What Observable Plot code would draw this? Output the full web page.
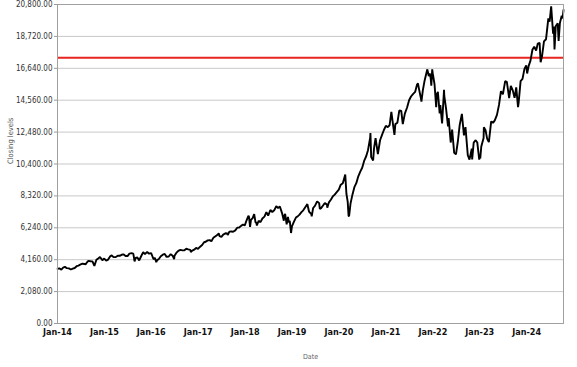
<!DOCTYPE html>
<html>
<head>
<meta charset="utf-8">
<script src="https://cdn.jsdelivr.net/npm/d3@7"></script>
<script src="https://cdn.jsdelivr.net/npm/@observablehq/plot@0.6"></script>
<style>
  html, body { margin: 0; padding: 0; background: #fff; }
  #chart svg { display: block; }
</style>
</head>
<body>
<div id="chart"></div>
<script>
// ---- data ----
const dates = [
  // 2014
  "2014-01-02","2014-01-15","2014-01-31","2014-02-14","2014-02-28","2014-03-14","2014-03-31","2014-04-15","2014-04-30","2014-05-15","2014-05-30","2014-06-13","2014-06-30","2014-07-15","2014-07-31","2014-08-07","2014-08-15","2014-08-29","2014-09-15","2014-09-30","2014-10-15","2014-10-31","2014-11-14","2014-11-28","2014-12-16","2014-12-31",
  // 2015
  "2015-01-15","2015-01-30","2015-02-13","2015-02-27","2015-03-13","2015-03-31","2015-04-15","2015-04-30","2015-05-15","2015-05-29","2015-06-15","2015-06-30","2015-07-15","2015-07-31","2015-08-14","2015-08-24","2015-08-31","2015-09-15","2015-09-29","2015-10-15","2015-10-30","2015-11-13","2015-11-30","2015-12-15","2015-12-31",
  // 2016
  "2016-01-15","2016-01-20","2016-01-29","2016-02-09","2016-02-16","2016-02-29","2016-03-15","2016-03-31","2016-04-15","2016-04-29","2016-05-16","2016-05-31","2016-06-15","2016-06-27","2016-06-30","2016-07-15","2016-07-29","2016-08-15","2016-08-31","2016-09-15","2016-09-30","2016-10-14","2016-10-31","2016-11-04","2016-11-15","2016-11-30","2016-12-15","2016-12-30",
  // 2017
  "2017-01-13","2017-01-31","2017-02-15","2017-02-28","2017-03-15","2017-03-31","2017-04-13","2017-04-28","2017-05-15","2017-05-31","2017-06-09","2017-06-15","2017-06-30","2017-07-14","2017-07-31","2017-08-15","2017-08-18","2017-08-31","2017-09-15","2017-09-29","2017-10-16","2017-10-31","2017-11-15","2017-11-30","2017-12-15","2017-12-29",
  // 2018
  "2018-01-12","2018-01-26","2018-01-31","2018-02-08","2018-02-15","2018-02-28","2018-03-12","2018-03-23","2018-03-29","2018-04-02","2018-04-16","2018-04-30","2018-05-15","2018-05-31","2018-06-15","2018-06-29","2018-07-16","2018-07-31","2018-08-15","2018-08-31","2018-09-14","2018-09-28","2018-10-15","2018-10-29","2018-10-31","2018-11-08","2018-11-20","2018-11-30","2018-12-07","2018-12-14","2018-12-24","2018-12-31",
  // 2019
  "2019-01-15","2019-01-31","2019-02-15","2019-02-28","2019-03-15","2019-03-29","2019-04-15","2019-04-30","2019-05-13","2019-05-31","2019-06-03","2019-06-14","2019-06-28","2019-07-15","2019-07-31","2019-08-05","2019-08-15","2019-08-30","2019-09-13","2019-09-30","2019-10-02","2019-10-15","2019-10-31","2019-11-15","2019-11-29","2019-12-13","2019-12-31",
  // 2020
  "2020-01-15","2020-01-31","2020-02-19","2020-02-28","2020-03-09","2020-03-16","2020-03-20","2020-03-31","2020-04-15","2020-04-30","2020-05-15","2020-05-29","2020-06-15","2020-06-30","2020-07-15","2020-07-31","2020-08-14","2020-08-31","2020-09-02","2020-09-08","2020-09-23","2020-09-30","2020-10-12","2020-10-30","2020-11-16","2020-11-30","2020-12-15","2020-12-31",
  // 2021
  "2021-01-15","2021-01-29","2021-02-12","2021-02-26","2021-03-08","2021-03-15","2021-03-31","2021-04-15","2021-04-30","2021-05-12","2021-05-28","2021-06-15","2021-06-30","2021-07-15","2021-07-30","2021-08-16","2021-08-31","2021-09-07","2021-09-15","2021-09-30","2021-10-04","2021-10-15","2021-10-29","2021-11-19","2021-11-30","2021-12-08","2021-12-15","2021-12-20","2021-12-27","2021-12-31",
  // 2022
  "2022-01-14","2022-01-27","2022-01-31","2022-02-09","2022-02-23","2022-02-28","2022-03-14","2022-03-29","2022-03-31","2022-04-14","2022-04-29","2022-05-04","2022-05-20","2022-05-31","2022-06-16","2022-06-30","2022-07-15","2022-07-29","2022-08-15","2022-08-31","2022-09-12","2022-09-30","2022-10-13","2022-10-31","2022-11-03","2022-11-15","2022-11-30","2022-12-13","2022-12-28","2022-12-30",
  // 2023
  "2023-01-05","2023-01-13","2023-01-31","2023-02-02","2023-02-15","2023-02-28","2023-03-13","2023-03-31","2023-04-14","2023-04-28","2023-05-15","2023-05-31","2023-06-15","2023-06-30","2023-07-18","2023-07-31","2023-08-18","2023-08-31","2023-09-15","2023-09-29","2023-10-12","2023-10-26","2023-10-31","2023-11-15","2023-11-30","2023-12-15","2023-12-29",
  // 2024
  "2024-01-05","2024-01-17","2024-01-31","2024-02-15","2024-02-29","2024-03-15","2024-03-28","2024-04-11","2024-04-19","2024-04-30","2024-05-15","2024-05-31","2024-06-18","2024-06-28","2024-07-10","2024-07-25","2024-07-31","2024-08-05","2024-08-15","2024-08-30","2024-09-06","2024-09-16","2024-09-30","2024-10-07","2024-10-14"
];
const closes = [
  // 2014
  3560,3600,3505,3650,3700,3610,3596,3520,3582,3620,3736,3780,3850,3900,3880,3850,3950,4082,4060,4049,3760,4158,4240,4337,4120,4236,
  // 2015
  4100,4170,4360,4446,4330,4334,4420,4415,4480,4509,4400,4397,4560,4589,4560,4050,4275,4300,4110,4400,4648,4520,4665,4550,4593,
  // 2016
  4270,4190,4280,4000,4130,4202,4380,4484,4540,4341,4370,4523,4420,4200,4418,4620,4730,4800,4771,4770,4875,4830,4801,4660,4750,4810,4930,4864,
  // 2017
  4990,5119,5300,5330,5420,5436,5360,5584,5690,5788,5880,5700,5647,5800,5880,5870,5760,5988,6000,5980,6070,6248,6260,6365,6450,6397,
  // 2018
  6730,7022,6950,6300,6750,6870,7130,6580,6582,6390,6700,6606,6850,6967,7260,7040,7400,7272,7380,7651,7530,7627,7200,6700,6968,7150,6470,6949,6600,6700,5900,6330,
  // 2019
  6630,6906,7000,7100,7260,7378,7600,7781,7300,7128,6980,7530,7671,7960,7848,7470,7520,7692,7850,7750,7550,7900,8083,8300,8403,8550,8733,
  // 2020
  9050,9150,9718,8462,7950,7020,7000,7813,8400,8890,9150,9556,9900,10156,10600,10905,11300,12111,12420,10850,10630,11418,12090,11052,11950,12268,12600,12888,
  // 2021
  12800,12925,13800,12909,12300,13000,13091,13900,13860,13000,13687,14100,14554,14800,14959,15100,15583,15650,15300,14690,14470,15200,15850,16573,16135,16300,16000,15500,16570,16320,
  // 2022
  15600,14110,14930,15100,13700,14238,13050,15240,14838,14000,12855,13400,11800,12643,11130,11028,11900,12948,13667,12272,12800,10971,10690,11406,10700,11800,11951,11800,10680,10940,
  // 2023
  10760,11540,12101,12800,12600,12042,11830,13181,13080,13246,13600,14254,15150,14945,15800,15757,14700,15501,15200,14715,15400,14110,14410,15800,15947,16600,16826,
  // 2024
  16300,16800,17137,17850,18043,17800,18255,18300,17037,17441,18400,18536,19900,19683,20675,18900,19363,17868,19400,19575,18420,19600,20061,19900,20440
];
const thresholdLevel = [17330];
const yTicks = [0, 2080, 4160, 6240, 8320, 10400, 12480, 14560, 16640, 18720, 20800];
const xTickYears = [2014, 2015, 2016, 2017, 2018, 2019, 2020, 2021, 2022, 2023, 2024];
const yLabel = "Closing levels";
const xLabel = "Date";

// ---- build table ----
const parse = d3.utcParse("%Y-%m-%d");
const data = dates.map((d, i) => ({date: parse(d), close: closes[i]}));
const xTicks = xTickYears.map(y => new Date(Date.UTC(y, 0, 1)));
const font = "'DejaVu Sans Condensed', 'DejaVu Sans', sans-serif";

const chart = Plot.plot({
  width: 577,
  height: 367,
  marginLeft: 57,
  marginRight: 14,
  marginTop: 4,
  marginBottom: 44,
  style: {fontFamily: font, background: "#fff", overflow: "visible"},
  x: {type: "utc", domain: [new Date(Date.UTC(2014, 0, 1)), data[data.length - 1].date]},
  y: {domain: [0, 20800]},
  marks: [
    Plot.gridY(yTicks, {stroke: "#c8c8c8", strokeOpacity: 1, strokeWidth: 1}),
    Plot.axisY(yTicks, {
      tickFormat: d3.format(",.2f"), tickSize: 3, tickPadding: 2,
      fontSize: 8, fill: "#333", stroke: "#999", label: null
    }),
    Plot.axisX(xTicks, {
      tickFormat: d3.utcFormat("%b-%y"), tickSize: 0, tickPadding: 5,
      fontSize: 9, fontWeight: "bold", fill: "#111", label: null
    }),
    Plot.ruleY(thresholdLevel, {stroke: "#e8251f", strokeWidth: 2}),
    Plot.line(data, {x: "date", y: "close", stroke: "#000", strokeWidth: 1.9, strokeLinejoin: "miter"}),
    Plot.frame({stroke: "#a0a0a0"}),
    Plot.text([yLabel], {frameAnchor: "left", dx: -47, rotate: -90, fontSize: 7.5, fill: "#555"}),
    Plot.text([xLabel], {frameAnchor: "bottom", dy: 35, fontSize: 7, fill: "#666"})
  ]
});
document.getElementById("chart").appendChild(chart);
</script>
</body>
</html>
